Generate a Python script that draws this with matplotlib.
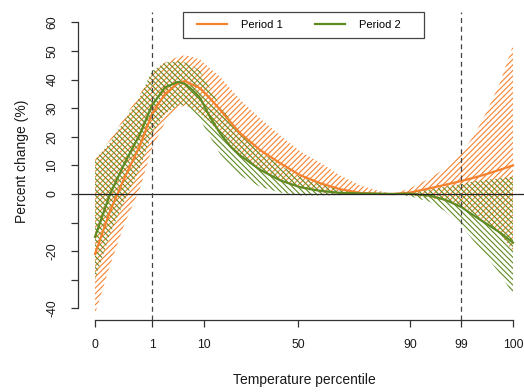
import numpy as np
import matplotlib.pyplot as plt
from matplotlib.patches import Rectangle

plt.rcParams['font.family'] = ['Liberation Sans', 'DejaVu Sans']
plt.rcParams['hatch.linewidth'] = 0.8

# temperature (deg C) of the percentile ticks
pct_labels = ["0", "1", "10", "50", "90", "99", "100"]
pct_temps = [-2.0, 2.09, 5.82, 12.57, 20.61, 24.27, 28.0]

# temperature grid for the curves
temp = [-2.0, -0.92, 0.15, 1.23, 2.09, 3.02, 3.96, 4.46, 4.96, 5.54, 6.25,
        6.97, 7.69, 8.41, 9.84, 11.28, 12.71, 14.15, 15.58, 17.02, 18.45,
        19.39, 20.61, 22.04, 23.12, 24.27, 25.27, 26.13, 27.07, 28.0]

# Period 1 (estimate, lower and upper bound, % change)
p1_est = [-21, -6, 6, 17, 28, 35, 38.8, 39.5, 38.3, 37, 33.5,
          29.5, 25.3, 21.3, 15.4, 10.8, 6.6, 3.8, 1.7, 0.4, 0.0,
          0.0, 0.5, 2.0, 3.2, 4.5, 5.8, 7.0, 8.5, 10.0]
p1_lo = [-42, -25, -10, 2, 16, 25, 30, 31, 30, 28, 25,
         21, 17, 13.5, 8, 4.5, 2, 0.5, 0, -0.3, -0.3,
         0, -0.5, -1.5, -2.5, -4, -7, -10, -14, -20]
p1_hi = [12, 19, 27, 35, 42, 46, 48, 48.5, 48, 47, 44,
         41, 37, 33, 26.5, 20.5, 15, 11, 6.5, 3, 1,
         0, 2, 5.5, 9, 14, 21, 29, 39, 52]

# Period 2
p2_est = [-15, 0, 11, 21, 31, 37.3, 39.2, 38.5, 36.5, 33.6, 27,
          21.3, 16.8, 13.5, 8.5, 4.8, 2.4, 1.1, 0.4, 0.2, 0.1,
          0, 0.1, -0.6, -2.0, -4.5, -7.8, -10.5, -13.5, -17]
p2_lo = [-30, -14, -2, 9, 21, 28, 31, 31, 29, 26, 20,
         14, 10, 6.5, 2.5, 0.5, -0.5, -0.5, -0.4, -0.2, -0.1,
         0, -0.8, -2.8, -6, -11, -17, -22, -28, -35]
p2_hi = [12, 18, 26, 34, 43, 46, 46.5, 46, 45, 43, 37,
         31, 26, 22, 15, 10, 6, 3.5, 1.5, 0.7, 0.3,
         0, 0.8, 1.5, 2.5, 3.5, 4.5, 5, 5.5, 6]

orange = "#F5822F"
green = "#5F8B22"

fig = plt.figure(figsize=(5.24, 3.92), dpi=100)
ax = fig.add_axes([78/524, 1-320/392, 446/524, 308/392])

ax.fill_between(temp, p1_lo, p1_hi, facecolor="none", edgecolor=orange,
                hatch="//////", linewidth=0)
ax.fill_between(temp, p2_lo, p2_hi, facecolor="none", edgecolor=green,
                hatch="\\\\\\\\\\\\", linewidth=0)
ax.plot(temp, p1_est, color=orange, lw=1.6, label="Period 1")
ax.plot(temp, p2_est, color=green, lw=1.6, label="Period 2")

ax.axhline(0, color="#222222", lw=0.9)
for t in (pct_temps[1], pct_temps[5]):
    ax.axvline(t, color="#444444", lw=0.9, ls=(0, (4, 3)))

ax.set_xlim(-3.22, 28.79)
ax.set_ylim(-44.06, 63.64)

for s in ("top", "right"):
    ax.spines[s].set_visible(False)
ax.spines["left"].set_bounds(-40, 60)
ax.spines["bottom"].set_bounds(pct_temps[0], pct_temps[-1])
for s in ("left", "bottom"):
    ax.spines[s].set_color("#333333")
    ax.spines[s].set_linewidth(0.9)

yt = np.arange(-40, 61, 10)
ax.set_yticks(yt)
ax.set_yticklabels(["" if v in (-10, -30) else str(v) for v in yt],
                   rotation=90, va="center")
ax.set_xticks(pct_temps)
ax.set_xticklabels(pct_labels)
ax.tick_params(length=5, width=0.9, color="#333333", labelsize=8.7,
               labelcolor="#1a1a1a", pad=9)

fig.text(22/524, 1-161/392, "Percent change (%)", rotation=90,
         ha="center", va="center", fontsize=10, color="#1a1a1a")
fig.text(304/524, 1-380/392, "Temperature percentile",
         ha="center", va="center", fontsize=10, color="#1a1a1a")

# legend box drawn separately, R style
ax.add_patch(Rectangle((183/524, 1-38/392), 241/524, 26/392,
                       transform=fig.transFigure, facecolor="white",
                       edgecolor="#444444", linewidth=0.9, zorder=5,
                       clip_on=False))
leg = ax.legend(loc="center left", bbox_to_anchor=(197/524, 1-25/392),
                bbox_transform=fig.transFigure, ncol=2, fontsize=8,
                frameon=False, borderaxespad=0, borderpad=0,
                handlelength=2.7, handletextpad=1.25, columnspacing=2.9)
leg.set_zorder(6)

fig.savefig("out.png", dpi=100)
